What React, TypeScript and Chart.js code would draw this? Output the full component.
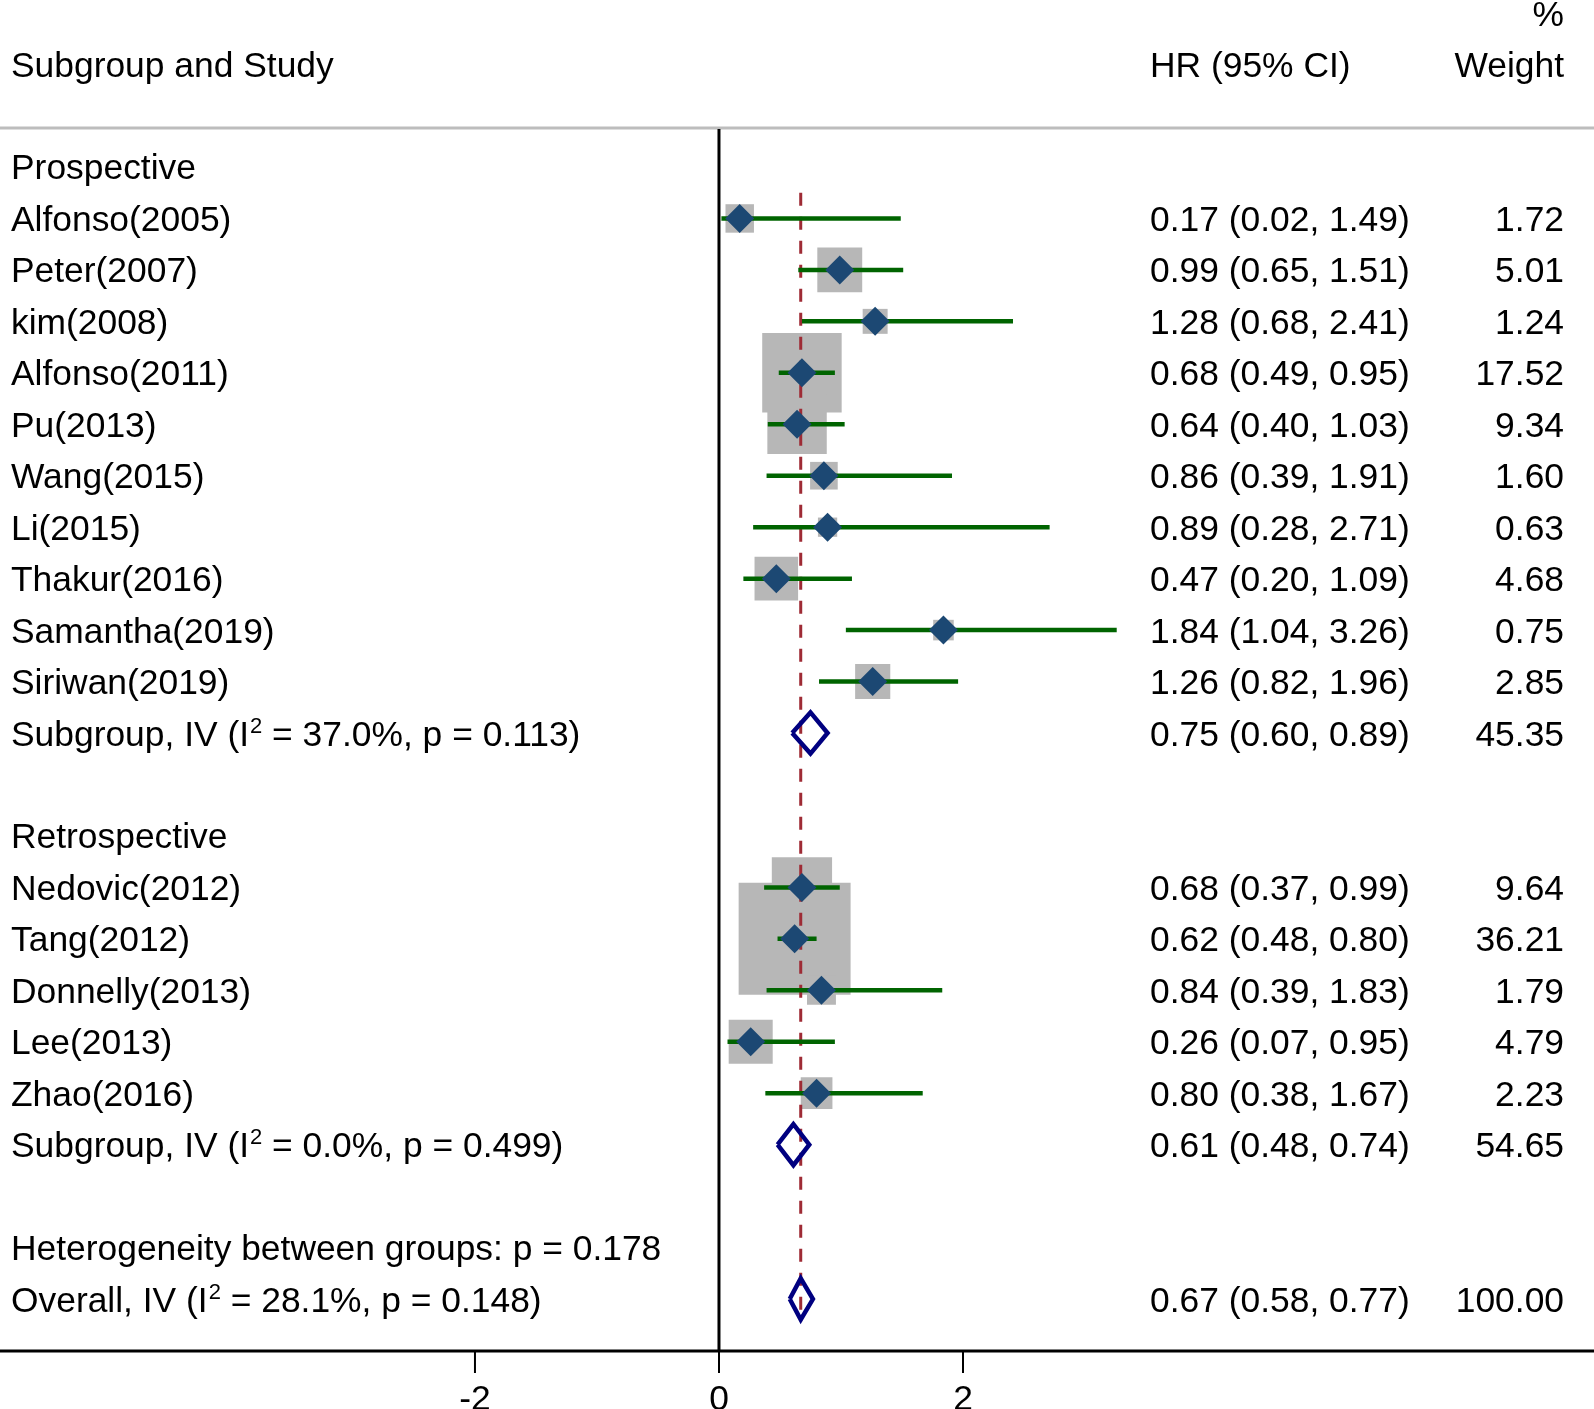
import React, { useEffect, useRef } from "react";
import { Chart, registerables } from "chart.js";

Chart.register(...registerables);

// ---------- data ----------
const groupNames = ["Prospective", "Retrospective"];

const prospectiveStudies = [
  "Alfonso(2005)", "Peter(2007)", "kim(2008)", "Alfonso(2011)", "Pu(2013)",
  "Wang(2015)", "Li(2015)", "Thakur(2016)", "Samantha(2019)", "Siriwan(2019)",
];
const prospectiveHR = [0.17, 0.99, 1.28, 0.68, 0.64, 0.86, 0.89, 0.47, 1.84, 1.26];
const prospectiveLower = [0.02, 0.65, 0.68, 0.49, 0.40, 0.39, 0.28, 0.20, 1.04, 0.82];
const prospectiveUpper = [1.49, 1.51, 2.41, 0.95, 1.03, 1.91, 2.71, 1.09, 3.26, 1.96];
const prospectiveWeight = [1.72, 5.01, 1.24, 17.52, 9.34, 1.60, 0.63, 4.68, 0.75, 2.85];

const retrospectiveStudies = ["Nedovic(2012)", "Tang(2012)", "Donnelly(2013)", "Lee(2013)", "Zhao(2016)"];
const retrospectiveHR = [0.68, 0.62, 0.84, 0.26, 0.80];
const retrospectiveLower = [0.37, 0.48, 0.39, 0.07, 0.38];
const retrospectiveUpper = [0.99, 0.80, 1.83, 0.95, 1.67];
const retrospectiveWeight = [9.64, 36.21, 1.79, 4.79, 2.23];

const subgroupLabels = [
  "Subgroup, IV (I² = 37.0%, p = 0.113)",
  "Subgroup, IV (I² = 0.0%, p = 0.499)",
];
const subgroupHR = [0.75, 0.61];
const subgroupLower = [0.60, 0.48];
const subgroupUpper = [0.89, 0.74];
const subgroupWeight = [45.35, 54.65];

const heterogeneityLabel = "Heterogeneity between groups: p = 0.178";
const overallLabel = "Overall, IV (I² = 28.1%, p = 0.148)";
const overallHR = 0.67;
const overallLower = 0.58;
const overallUpper = 0.77;
const overallWeight = 100.0;

const xTicks = [-2, 0, 2];
const xTickLabels = ["-2", "0", "2"];

// ---------- rows ----------
type Row = {
  label: string;
  kind: "header" | "study" | "pooled" | "text";
  y: number;
  hr?: number;
  lo?: number;
  hi?: number;
  w?: number;
};

const groups = [
  { studies: prospectiveStudies, hr: prospectiveHR, lo: prospectiveLower, hi: prospectiveUpper, w: prospectiveWeight },
  { studies: retrospectiveStudies, hr: retrospectiveHR, lo: retrospectiveLower, hi: retrospectiveUpper, w: retrospectiveWeight },
];

function buildRows(): Row[] {
  const rows: Row[] = [];
  let r = 0;
  groups.forEach((g, gi) => {
    rows.push({ label: groupNames[gi], kind: "header", y: r++ });
    g.studies.forEach((s, i) =>
      rows.push({ label: s, kind: "study", y: r++, hr: g.hr[i], lo: g.lo[i], hi: g.hi[i], w: g.w[i] })
    );
    rows.push({
      label: subgroupLabels[gi], kind: "pooled", y: r++,
      hr: subgroupHR[gi], lo: subgroupLower[gi], hi: subgroupUpper[gi], w: subgroupWeight[gi],
    });
    r++; // blank line
  });
  rows.push({ label: heterogeneityLabel, kind: "text", y: r++ });
  rows.push({ label: overallLabel, kind: "pooled", y: r++, hr: overallHR, lo: overallLower, hi: overallUpper, w: overallWeight });
  return rows;
}

const FONT = "35.4px 'Liberation Sans', Arial, sans-serif";
const SUP_FONT = "22px 'Liberation Sans', Arial, sans-serif";

export default function App() {
  const canvasRef = useRef<HTMLCanvasElement | null>(null);

  useEffect(() => {
    document.body.style.margin = "0";
    document.body.style.overflow = "hidden";
    const canvas = canvasRef.current;
    if (!canvas) return;

    const rows = buildRows();
    const studyRows = rows.filter((r) => r.kind === "study");
    const pooledRows = rows.filter((r) => r.kind === "pooled");
    const lastRow = rows[rows.length - 1].y;
    const diamondHalf = 0.4; // in row units

    const datasets: any[] = [];

    // weight boxes
    datasets.push({
      data: studyRows.map((r) => ({ x: r.hr, y: r.y })),
      pointStyle: "rect",
      pointRadius: studyRows.map((r) => (5.2 + 17.74 * Math.sqrt(r.w as number)) / Math.SQRT2),
      backgroundColor: "#b7b7b7",
      borderWidth: 0,
      showLine: false,
      order: 10,
    });

    // overall dashed line
    datasets.push({
      data: [
        { x: overallHR, y: 0.5 },
        { x: overallHR, y: lastRow + diamondHalf + 0.03 },
      ],
      showLine: true,
      borderColor: "#9e2b35",
      borderWidth: 3,
      borderDash: [13, 11],
      pointRadius: 0,
      order: 9,
    });

    // CI lines
    studyRows.forEach((r) => {
      datasets.push({
        data: [
          { x: r.lo, y: r.y },
          { x: r.hi, y: r.y },
        ],
        showLine: true,
        borderColor: "#006400",
        borderWidth: 4.5,
        pointRadius: 0,
        order: 8,
      });
    });

    // point estimates
    datasets.push({
      data: studyRows.map((r) => ({ x: r.hr, y: r.y })),
      pointStyle: "rectRot",
      pointRadius: 14.5,
      backgroundColor: "#1c4873",
      borderWidth: 0,
      showLine: false,
      order: 7,
    });

    // pooled diamonds
    pooledRows.forEach((r) => {
      datasets.push({
        data: [
          { x: r.lo, y: r.y },
          { x: r.hr, y: r.y - diamondHalf },
          { x: r.hi, y: r.y },
          { x: r.hr, y: r.y + diamondHalf },
          { x: r.lo, y: r.y },
        ],
        showLine: true,
        borderColor: "#000080",
        borderWidth: 4.5,
        borderJoinStyle: "miter",
        pointRadius: 0,
        order: 6,
      });
    });

    const drawLabel = (ctx: CanvasRenderingContext2D, text: string, x: number, baseline: number) => {
      const idx = text.indexOf("²");
      ctx.font = FONT;
      ctx.textAlign = "left";
      if (idx < 0) {
        ctx.fillText(text, x, baseline);
        return;
      }
      const before = text.slice(0, idx);
      const after = text.slice(idx + 1);
      ctx.fillText(before, x, baseline);
      let cx = x + ctx.measureText(before).width;
      ctx.font = SUP_FONT;
      ctx.fillText("2", cx + 1, baseline - 13);
      cx += ctx.measureText("2").width + 1;
      ctx.font = FONT;
      ctx.fillText(after, cx, baseline);
    };

    const decor = {
      id: "forestDecor",
      beforeDatasetsDraw(chart: any) {
        const { ctx, chartArea } = chart;
        const xs = chart.scales.x;
        ctx.save();
        // header separator
        ctx.strokeStyle = "#bdbdbd";
        ctx.lineWidth = 3;
        ctx.beginPath();
        ctx.moveTo(0, chartArea.top + 1);
        ctx.lineTo(chart.width, chartArea.top + 1);
        ctx.stroke();
        // null line at 0
        const x0 = xs.getPixelForValue(0);
        ctx.strokeStyle = "#000";
        ctx.lineWidth = 3;
        ctx.beginPath();
        ctx.moveTo(x0, chartArea.top + 2);
        ctx.lineTo(x0, chartArea.bottom);
        ctx.stroke();
        ctx.restore();
      },
      afterDraw(chart: any) {
        const { ctx, chartArea } = chart;
        const xs = chart.scales.x;
        const ys = chart.scales.y;
        ctx.save();
        // x axis
        ctx.strokeStyle = "#000";
        ctx.lineWidth = 3;
        ctx.beginPath();
        ctx.moveTo(0, chartArea.bottom);
        ctx.lineTo(chart.width, chartArea.bottom);
        ctx.stroke();
        ctx.lineWidth = 2;
        xTicks.forEach((t) => {
          const px = xs.getPixelForValue(t);
          ctx.beginPath();
          ctx.moveTo(px, chartArea.bottom);
          ctx.lineTo(px, chartArea.bottom + 22);
          ctx.stroke();
        });
        ctx.fillStyle = "#000";
        ctx.font = FONT;
        ctx.textAlign = "center";
        ctx.textBaseline = "alphabetic";
        xTicks.forEach((t, i) => {
          ctx.fillText(xTickLabels[i], xs.getPixelForValue(t), chartArea.bottom + 59);
        });

        // headers
        ctx.textAlign = "left";
        ctx.fillText("Subgroup and Study", 11, 77);
        ctx.fillText("HR (95% CI)", 1150, 77);
        ctx.textAlign = "right";
        ctx.fillText("Weight", 1564, 77);
        ctx.fillText("%", 1564, 26);

        // rows
        rows.forEach((r) => {
          const base = ys.getPixelForValue(r.y) + 12.5;
          drawLabel(ctx, r.label, 11, base);
          if (r.hr !== undefined) {
            ctx.font = FONT;
            ctx.textAlign = "left";
            ctx.fillText(
              `${r.hr.toFixed(2)} (${(r.lo as number).toFixed(2)}, ${(r.hi as number).toFixed(2)})`,
              1150,
              base
            );
            ctx.textAlign = "right";
            ctx.fillText((r.w as number).toFixed(2), 1564, base);
          }
        });
        ctx.restore();
      },
    };

    const chart = new Chart(canvas, {
      type: "scatter",
      data: { datasets },
      options: {
        animation: false,
        responsive: false,
        devicePixelRatio: 1,
        events: [],
        layout: { autoPadding: false, padding: { top: 127, bottom: 58, left: 0, right: 0 } },
        plugins: { legend: { display: false }, tooltip: { enabled: false } },
        scales: {
          x: { type: "linear", min: -5.893, max: 7.172, display: false },
          y: { type: "linear", min: -0.777, max: 23.01, reverse: true, display: false },
        },
      },
      plugins: [decor],
    });

    return () => chart.destroy();
  }, []);

  return (
    <div style={{ width: 1594, height: 1409, background: "#fff" }}>
      <canvas ref={canvasRef} width={1594} height={1409} style={{ display: "block" }} />
    </div>
  );
}
